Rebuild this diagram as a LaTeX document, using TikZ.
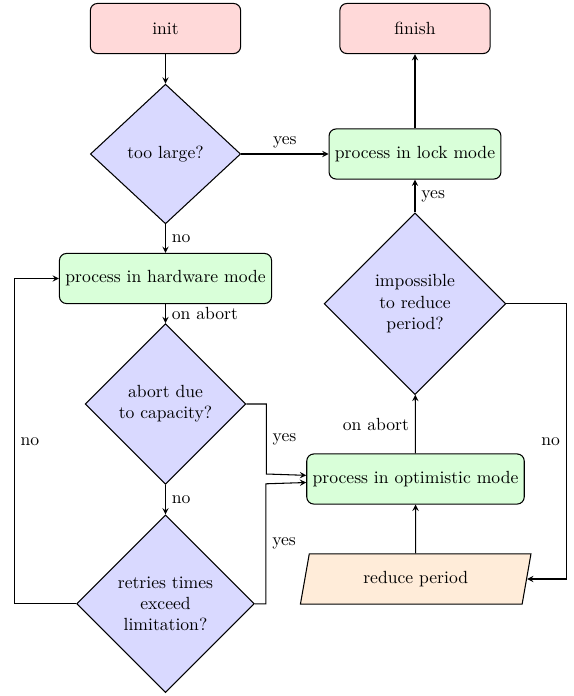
\documentclass[tikz,border=0pt]{standalone}
\usepackage{tikz}
\usetikzlibrary{calc, shapes.geometric, arrows}
\tikzstyle{terminal} = [rectangle, rounded corners, draw, semithick, fill=red!15, minimum width=3cm, minimum height=1cm]
\tikzstyle{process}  = [rectangle, rounded corners, draw, semithick, fill=green!15, minimum height=1cm]
\tikzstyle{decision} = [diamond, draw, semithick, fill=blue!15, text width=2cm, align=center]
\tikzstyle{io}       = [trapezium, trapezium left angle=80, trapezium right angle=100, trapezium stretches=true, draw, semithick, fill=orange!15, minimum width=4.62cm, minimum height=1cm]
\tikzstyle{arrow}    = [semithick,->,>=stealth]

\begin{document}
\begin{tikzpicture}[x=0.568pt, y=-0.568pt]
    \useasboundingbox (0,0) rectangle (574,696);
    % left column
    \node[terminal] (init) at (165.5,28.5) {init};
    \node[decision, minimum width=3cm] (large) at (165.5,154) {too large?};
    \node[process] (hw) at (165.5,278.5) {process in hardware mode};
    \node[decision] (cap) at (165.5,404) {abort due\\to capacity?};
    \node[decision] (retry) at (165.5,603.8) {retries times\\exceed\\limitation?};
    % right column
    \node[terminal] (finish) at (415,28.5) {finish};
    \node[process] (lock) at (415,154) {process in lock mode};
    \node[decision] (reduce) at (415,303.7) {impossible\\to reduce\\period?};
    \node[process] (opt) at (415.5,479) {process in optimistic mode};
    \node[io] (period) at (415.7,579) {reduce period};

    \draw[arrow] (init) -- (large);
    \draw[arrow] (large) -- node[above] {yes} (lock);
    \draw[arrow] (large) -- node[right] {no} (hw);
    \draw[arrow] (hw) -- node[right] {on abort} (cap);
    \draw[arrow] (cap) -- node[right] {no} (retry);
    \draw[arrow] (cap.east) -- ++(20,0) -- ++(0,70) node[midway,right] {yes} -- (opt);
    \draw[arrow] (retry.east) -- ++(11,0) -- ++(0,-120) node[midway,right] {yes} -- (opt);
    \draw[arrow] (retry.west) -- ++(-62,0) |- node[pos=0.25,right] {no} (hw.west);
    \draw[arrow] (opt) -- node[left] {on abort} (reduce);
    \draw[arrow] (reduce) -- node[right] {yes} (lock);
    \draw[arrow] (reduce.east) -- ++(60,0) |- node[pos=0.25,left] {no} (period.east);
    \draw[arrow] (period) -- (opt);
    \draw[arrow] (lock) -- (finish);
\end{tikzpicture}
\end{document}
